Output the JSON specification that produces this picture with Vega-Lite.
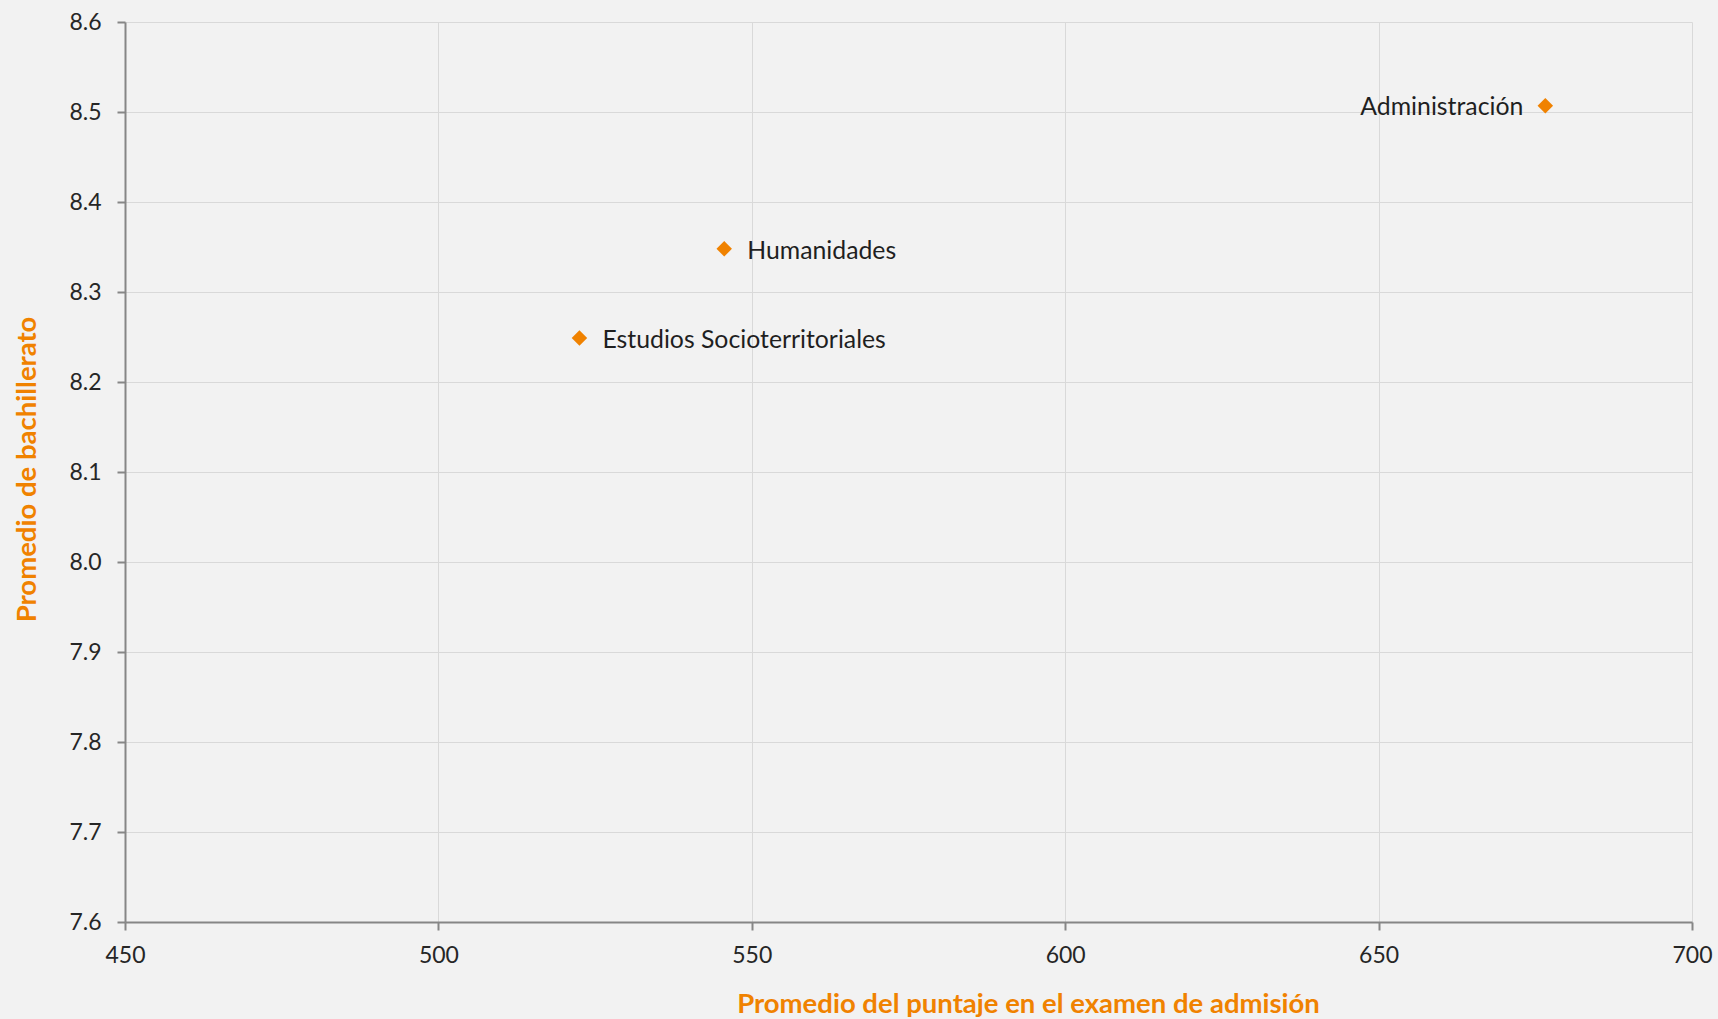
{
  "$schema": "https://vega.github.io/schema/vega-lite/v6.json",
  "autosize": "none",
  "padding": {"left": 125, "top": 22, "right": 27, "bottom": 97},
  "width": 1567,
  "height": 900,
  "background": "#F2F2F2",
  "config": {
    "view": {"stroke": null},
    "font": "Lato",
    "axis": {
      "domainColor": "#868686",
      "domainWidth": 2,
      "tickColor": "#868686",
      "tickWidth": 2,
      "tickSize": 8,
      "gridColor": "#D9D9D9",
      "gridWidth": 1,
      "labelFont": "Lato",
      "labelFontSize": 23,
      "labelColor": "#262626",
      "labelFlush": false,
      "titleFont": "Lato",
      "titleFontSize": 27.5,
      "titleFontWeight": "bold",
      "titleColor": "#F08200"
    }
  },
  "data": {
    "values": [
      {"carrera": "Administración", "puntaje": 676.6, "bachillerato": 8.507},
      {"carrera": "Humanidades", "puntaje": 545.6, "bachillerato": 8.348},
      {"carrera": "Estudios Socioterritoriales", "puntaje": 522.5, "bachillerato": 8.249}
    ]
  },
  "encoding": {
    "x": {
      "field": "puntaje",
      "type": "quantitative",
      "scale": {"domain": [450, 700], "nice": false, "zero": false},
      "axis": {
        "title": "Promedio del puntaje en el examen de admisión",
        "values": [450, 500, 550, 600, 650, 700],
        "labelPadding": 14,
        "titleX": 903,
        "titleY": 90,
        "titleBaseline": "alphabetic",
        "titleAlign": "center"
      }
    },
    "y": {
      "field": "bachillerato",
      "type": "quantitative",
      "scale": {"domain": [7.6, 8.6], "nice": false, "zero": false},
      "axis": {
        "title": "Promedio de bachillerato",
        "values": [7.6, 7.7, 7.8, 7.9, 8.0, 8.1, 8.2, 8.3, 8.4, 8.5, 8.6],
        "format": ".1f",
        "labelPadding": 16,
        "titleX": -90,
        "titleY": 447,
        "titleBaseline": "alphabetic",
        "titleAlign": "center",
        "titleAngle": -90
      }
    }
  },
  "layer": [
    {
      "mark": {"type": "point", "shape": "diamond", "filled": true, "size": 240, "color": "#F08200", "opacity": 1}
    },
    {
      "transform": [{"filter": "datum.carrera !== 'Administración'"}],
      "mark": {"type": "text", "align": "left", "baseline": "middle", "dx": 23, "dy": 3, "fontSize": 24.8, "color": "#1F1F1F", "font": "Lato"},
      "encoding": {"text": {"field": "carrera"}}
    },
    {
      "transform": [{"filter": "datum.carrera === 'Administración'"}],
      "mark": {"type": "text", "align": "right", "baseline": "middle", "dx": -22, "dy": 2, "fontSize": 24.8, "color": "#1F1F1F", "font": "Lato"},
      "encoding": {"text": {"field": "carrera"}}
    }
  ]
}
